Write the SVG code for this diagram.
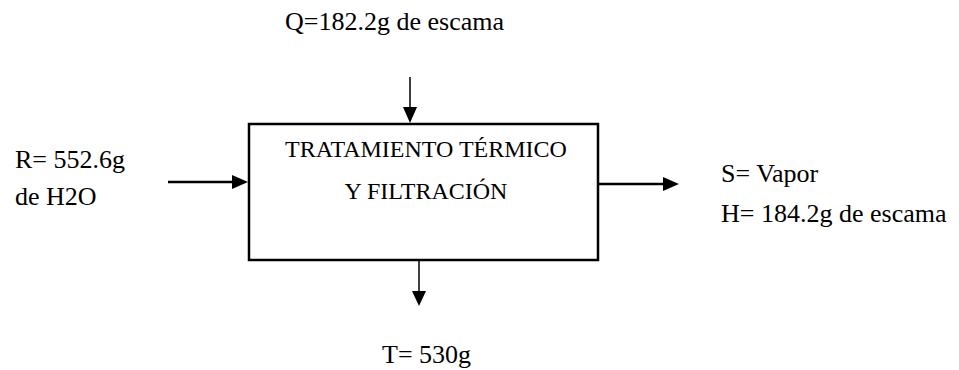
<svg xmlns="http://www.w3.org/2000/svg" width="959" height="370" viewBox="0 0 959 370">
<style>
text{font-family:'Liberation Serif','Times New Roman','DejaVu Serif',serif;font-size:26px;fill:#000}
.box{font-size:24px}
.ln{stroke:#000;stroke-width:1.5;fill:none}
.ah{fill:#000}
</style>
<rect width="959" height="370" fill="#fff"/>
<g id="node-process" font-family="Liberation Serif">
<rect x="249" y="124" width="349" height="136" fill="#fff" stroke="#000" stroke-width="2.5"/>
<text class="box" x="426" y="157" text-anchor="middle" font-family="Liberation Serif">TRATAMIENTO TÉRMICO</text>
<text class="box" x="426" y="199" text-anchor="middle" font-family="Liberation Serif">Y FILTRACIÓN</text>
</g>
<g id="label-Q"><text x="285" y="30" font-family="Liberation Serif">Q=182.2g de escama</text></g>
<g id="label-R"><text x="15" y="168" font-family="Liberation Serif">R= 552.6g</text><text x="15" y="205" font-family="Liberation Serif">de H2O</text></g>
<g id="label-S"><text x="721" y="182" font-family="Liberation Serif">S= Vapor</text><text x="721" y="222" font-family="Liberation Serif">H= 184.2g de escama</text></g>
<g id="label-T"><text x="382" y="363" font-family="Liberation Serif">T= 530g</text></g>
<g id="connectors">
<line class="ln" x1="410" y1="77" x2="410" y2="108"/>
<polygon class="ah" points="403,107 417,107 410,123"/>
<line class="ln" x1="168" y1="182" x2="233" y2="182" style="stroke-width:2.5"/>
<polygon class="ah" points="232,175 232,189 248,182"/>
<line class="ln" x1="599" y1="184" x2="664" y2="184" style="stroke-width:2.5"/>
<polygon class="ah" points="663,177 663,191 679,184"/>
<line class="ln" x1="419" y1="261" x2="419" y2="292"/>
<polygon class="ah" points="412,291 426,291 419,306"/>
</g>
</svg>
